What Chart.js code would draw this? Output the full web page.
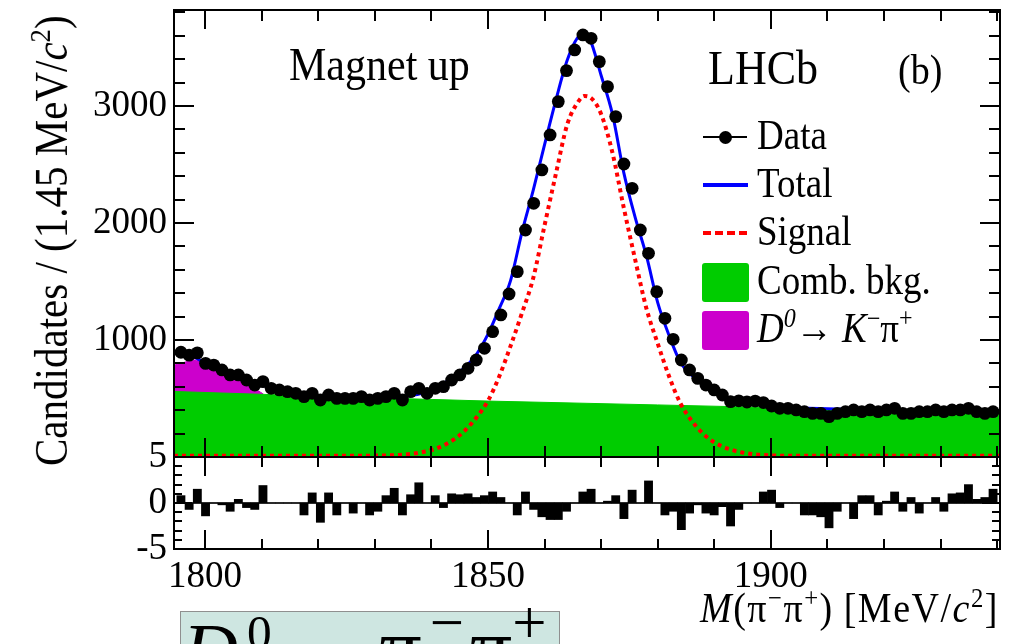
<!DOCTYPE html>
<html>
<head>
<meta charset="utf-8">
<script src="https://cdn.jsdelivr.net/npm/chart.js@4.4.1/dist/chart.umd.min.js"></script>
<style>
html, body { margin: 0; padding: 0; background: #fff; }
#wrap { position: relative; width: 1018px; height: 644px; overflow: hidden; font-family: 'Liberation Serif', 'Times New Roman', serif; color: #000; }
canvas { position: absolute; left: 0; }
.txt { position: absolute; left: 0; top: 0; line-height: 1; white-space: nowrap; }
.txt sup { font-size: 0.65em; line-height: 0; vertical-align: baseline; position: relative; top: -0.55em; }
.sym { position: absolute; }
.box { position: absolute; left: 180px; top: 611px; width: 378px; height: 60px; background: #cee6e1; border: 1px solid #8f8f8f; }
</style>
</head>
<body>
<div id="wrap">
  <canvas id="mainCanvas" width="1018" height="462" style="top:0px"></canvas>
  <canvas id="resCanvas" width="1018" height="170" style="top:440px"></canvas>

  <!-- legend symbols -->
  <div class="sym" style="left:703px;top:136px;width:44px;height:2px;background:#000"></div>
  <div class="sym" style="left:719px;top:131px;width:13px;height:13px;border-radius:50%;background:#000"></div>
  <div class="sym" style="left:703px;top:183px;width:45px;height:4px;background:#0000ff"></div>
  <div class="sym" style="left:703px;top:231px;width:44px;height:4px;background:repeating-linear-gradient(90deg,#ff0000 0 8px,transparent 8px 12px)"></div>
  <div class="sym" style="left:702px;top:263px;width:47px;height:39px;border-radius:3px;background:#00cc00"></div>
  <div class="sym" style="left:702px;top:311px;width:47px;height:39px;border-radius:3px;background:#cc00cc"></div>

  <div class="box"></div>
</div>

<script>
// binning (1.45 MeV/c2 bins) and axis range
const BIN_LO = 1795;
const BIN_W = 1.45;
const X_MIN = 1794.5;
const X_MAX = 1940.5;
const Y_MAX = 3820;

// tick labels
const xTickVals = [1800, 1850, 1900];
const yTickVals = [1000, 2000, 3000];
const resTickVals = [-5, 0, 5];

// candidates per bin
const dataCounts = [
  895, 870, 890, 800, 786, 744, 701, 701, 658, 615,
  644, 587, 573, 558, 544, 516, 544, 487, 530, 501,
  501, 501, 516, 487, 501, 516, 544, 487, 558, 587,
  544, 587, 601, 658, 701, 758, 829, 929, 1071, 1214,
  1393, 1584, 1940, 2168, 2453, 2752, 3037, 3302, 3479, 3607,
  3578, 3379, 3165, 2909, 2504, 2296, 1940, 1741, 1413, 1185,
  1006, 829, 744, 672, 615, 573, 530, 473, 480, 470,
  478, 465, 436, 416, 416, 402, 387, 373, 373, 345,
  373, 387, 402, 387, 402, 387, 402, 416, 373, 373,
  387, 387, 402, 387, 402, 402, 416, 387, 373, 387
];

// residuals (pulls) per bin
const pulls = [
  0.8, -0.7, 1.5, -1.4, 0, -0.2, -0.9, 0.4, -0.5, -0.7,
  1.9, 0, 0, 0, 0, -1.3, 1.1, -2.1, 1.1, -1.3,
  0, -1.1, 0, -1.3, -0.9, 0.8, 1.6, -1.3, 0.9, 2.2,
  0, 0.8, -0.5, 1.0, 0.9, 1.0, 0.6, 0.8, 1.2, 0.6,
  0, -1.3, 1.2, -0.7, -1.5, -1.8, -1.8, -0.9, 0, 1.2,
  1.5, 0, 0.2, 0.8, -1.7, 1.4, 0, 2.4, 0, -1.3,
  -0.9, -2.9, -1.1, -0.2, -1.1, -1.3, -0.4, -2.5, -0.7, 0,
  0, 1.2, 1.4, -0.5, 0, 0, -1.3, -1.3, -1.5, -2.7,
  -0.9, 0, -1.7, 0.8, 0.8, -1.3, 0.2, 1.2, -0.9, 0.6,
  -1.1, 0, 0.6, -0.9, 1.0, 1.1, 2.0, 0.4, 0.6, 1.5
];

// fit curves
const curveX = [
  1794.5, 1797, 1800, 1803, 1806, 1810, 1815, 1820, 1825, 1830,
  1835, 1838, 1841, 1844, 1846, 1848, 1850, 1852, 1854, 1856,
  1858, 1860, 1862, 1864, 1866, 1867, 1868, 1870, 1872, 1874,
  1876, 1878, 1880, 1882, 1884, 1886, 1888, 1890, 1893, 1896,
  1900, 1905, 1910, 1920, 1930, 1940.5
];
const totalFit = [
  890, 875, 805, 735, 675, 615, 555, 522, 505, 505,
  518, 540, 595, 690, 770, 880, 1050, 1270, 1510, 1920,
  2280, 2670, 3050, 3390, 3590, 3605, 3570, 3260, 2930, 2430,
  2050, 1720, 1320, 1040, 810, 700, 625, 565, 495, 465,
  440, 420, 412, 400, 392, 385
];
const signalFit = [
  10, 10, 10, 10, 10, 10, 10, 10, 10, 12,
  20, 38, 75, 150, 230, 340, 480, 690, 950, 1230,
  1530, 1980, 2420, 2840, 3040, 3085, 3075, 2930, 2600, 2130,
  1690, 1270, 970, 690, 460, 310, 200, 125, 62, 30,
  14, 10, 10, 10, 10, 10
];
const combX = [1794.5, 1820, 1850, 1880, 1910, 1940.5];
const combFit = [560, 520, 478, 445, 412, 385];
// D0 -> K pi reflection, stacked on top of the comb. background
const kpiX = [1794.5, 1796, 1798, 1799, 1801, 1803, 1806, 1808, 1810.3];
const kpiTop = [785, 805, 829, 820, 780, 735, 670, 610, 538];

const pts = (xs, ys) => xs.map((x, i) => ({ x: x, y: ys[i] }));
const binCenters = dataCounts.map((_, i) => BIN_LO + BIN_W * (i + 0.5));

Chart.defaults.font.family = "'Liberation Serif', 'Times New Roman', serif";
Chart.defaults.color = '#000';

// ROOT style frame: box + ticks pointing inward on all four sides
const rootFrame = {
  id: 'rootFrame',
  afterDatasetsDraw(chart, args, o) {
    const { ctx, chartArea: a, scales: { x, y } } = chart;
    const seg = (x1, y1, x2, y2) => { ctx.beginPath(); ctx.moveTo(x1, y1); ctx.lineTo(x2, y2); ctx.stroke(); };
    const isMaj = (v, m) => Math.abs(v / m - Math.round(v / m)) < 1e-6;
    ctx.save();
    ctx.strokeStyle = '#000';
    ctx.lineWidth = 2;
    if (o.zero) {
      ctx.lineWidth = 1.5;
      const py = y.getPixelForValue(0);
      seg(a.left, py, a.right, py);
      ctx.lineWidth = 2;
    }
    for (let v = Math.ceil(x.min / o.xMinor) * o.xMinor; v <= x.max; v += o.xMinor) {
      const px = Math.round(x.getPixelForValue(v));
      const len = isMaj(v, o.xMajor) ? o.xMajLen : o.xMinLen;
      seg(px, a.bottom, px, a.bottom - len);
      seg(px, a.top, px, a.top + len);
    }
    for (let v = Math.ceil(y.min / o.yMinor) * o.yMinor; v <= y.max + 1e-9; v += o.yMinor) {
      const py = Math.round(y.getPixelForValue(v));
      const len = isMaj(v, o.yMajor) ? o.yMajLen : o.yMinLen;
      seg(a.left, py, a.left + len, py);
      seg(a.right, py, a.right - len, py);
    }
    ctx.strokeRect(a.left, a.top, a.right - a.left, a.bottom - a.top);
    ctx.restore();
  }
};

const tickFont = { size: 37 };
// keep the plot frame where the layout padding puts it (no extra room for half tick labels)
const fixY = s => { s.width = 174; s.paddingTop = 0; s.paddingBottom = 0; };
const fixX = s => { s.height = 61; s.paddingLeft = 0; s.paddingRight = 0; };

// === main panel ===
new Chart(document.getElementById('mainCanvas'), {
  type: 'scatter',
  data: {
    datasets: [
      { label: 'Data', data: pts(binCenters, dataCounts), pointRadius: 6.4, pointBackgroundColor: '#000', pointBorderWidth: 0, order: 0 },
      { type: 'line', label: 'Total', data: pts(curveX, totalFit), borderColor: '#0000ff', borderWidth: 3,
        pointRadius: 0, cubicInterpolationMode: 'monotone', fill: false, order: 1 },
      { type: 'line', label: 'Signal', data: pts(curveX, signalFit), borderColor: '#ff0000', borderWidth: 4, borderDash: [4, 4],
        pointRadius: 0, cubicInterpolationMode: 'monotone', fill: false, clip: 3, order: 2 },
      { type: 'line', label: 'Comb. bkg.', data: pts(combX, combFit), borderColor: '#00cc00', borderWidth: 1,
        backgroundColor: '#00cc00', fill: 'origin', pointRadius: 0, order: 3 },
      { type: 'line', label: 'D0 -> K pi', data: pts(kpiX, kpiTop), borderColor: '#cc00cc', borderWidth: 1,
        backgroundColor: '#cc00cc', fill: 'origin', pointRadius: 0, tension: 0.2, order: 4 }
    ]
  },
  options: {
    responsive: false,
    animation: false,
    devicePixelRatio: 1,
    layout: { autoPadding: false, padding: { top: 10, right: 18, bottom: 5, left: 0 } },
    plugins: {
      legend: { display: false },
      tooltip: { enabled: false },
      rootFrame: { xMinor: 10, xMajor: 50, xMajLen: 19, xMinLen: 11, yMinor: 200, yMajor: 1000, yMajLen: 20, yMinLen: 11 }
    },
    scales: {
      x: { type: 'linear', min: X_MIN, max: X_MAX, display: false },
      y: {
        min: 0, max: Y_MAX,
        afterFit: fixY,
        afterBuildTicks(s) { s.ticks = yTickVals.map(v => ({ value: v })); },
        grid: { display: false, drawTicks: false },
        border: { display: false },
        ticks: { padding: 7, autoSkip: false, font: tickFont, color: '#000', callback: v => String(v) }
      }
    }
  },
  plugins: [rootFrame]
});

// === residual panel ===
new Chart(document.getElementById('resCanvas'), {
  type: 'bar',
  data: {
    datasets: [
      { label: 'Pull', data: pts(binCenters, pulls), backgroundColor: '#000', borderWidth: 0,
        barPercentage: 1, categoryPercentage: 1 }
    ]
  },
  options: {
    responsive: false,
    animation: false,
    devicePixelRatio: 1,
    layout: { autoPadding: false, padding: { top: 17, right: 18, bottom: 0, left: 0 } },
    plugins: {
      legend: { display: false },
      tooltip: { enabled: false },
      rootFrame: { zero: true, xMinor: 10, xMajor: 50, xMajLen: 19, xMinLen: 10, yMinor: 1, yMajor: 5, yMajLen: 18, yMinLen: 8 }
    },
    scales: {
      x: {
        type: 'linear', min: X_MIN, max: X_MAX, offset: false,
        afterFit: fixX,
        afterBuildTicks(s) { s.ticks = xTickVals.map(v => ({ value: v })); },
        grid: { display: false, drawTicks: false, offset: false },
        border: { display: false },
        ticks: { padding: 6, maxRotation: 0, autoSkip: false, font: tickFont, color: '#000', callback: v => String(v) }
      },
      y: {
        min: -5, max: 5,
        afterFit: fixY,
        afterBuildTicks(s) { s.ticks = resTickVals.map(v => ({ value: v })); },
        grid: { display: false, drawTicks: false },
        border: { display: false },
        ticks: { padding: 7, autoSkip: false, font: tickFont, color: '#000', callback: v => String(v) }
      }
    }
  },
  plugins: [rootFrame]
});

// === text labels (serif, slightly tall like the ROOT font) ===
const wrap = document.getElementById('wrap');
function addText(html, x, base, size, opt) {
  opt = opt || {};
  const el = document.createElement('div');
  el.className = 'txt';
  el.innerHTML = html;
  el.style.fontSize = size + 'px';
  if (opt.ls) el.style.letterSpacing = opt.ls + 'px';
  wrap.appendChild(el);
  const w = el.offsetWidth;
  const asc = 0.8375 * size;
  const dx = opt.anchor === 'right' ? -w : (opt.anchor === 'center' ? -w / 2 : 0);
  const sy = opt.sy || 1.12;
  el.style.transformOrigin = '0 0';
  el.style.transform = 'translate(' + x + 'px,' + base + 'px) ' + (opt.rot ? 'rotate(-90deg) ' : '') +
    'scaleY(' + sy + ') translate(' + dx + 'px,' + (-asc) + 'px)';
  return el;
}

addText('Magnet up', 289, 80, 42);
addText('LHCb', 708, 85, 44);
addText('(b)', 898, 84, 38);

addText('Data', 757, 149, 37);
addText('Total', 757, 197, 37);
addText('Signal', 757, 245, 37);
addText('Comb. bkg.', 757, 294, 37);
addText('<i>D</i><sup><i>0</i></sup>\u2192 <i>K</i><sup>\u2212</sup>\u03c0<sup>+</sup>', 757, 342, 37);

addText('Candidates / (1.45 MeV/<i>c</i><sup>2</sup>)', 67, 466, 41, { rot: true });
addText('<i>M</i>(\u03c0<sup>\u2212</sup>\u03c0<sup>+</sup>)<span style="margin-left:10px">[MeV/<i>c</i><sup>2</sup>]</span>', 999, 622, 38,
  { anchor: 'right', ls: 1.5 });

// caption box below the figure (cut by the page edge)
addText('<i>D</i><sup style="margin-left:9px">0</sup><span style="margin-left:-4px">\u2192</span>' +
  '<span style="margin-left:36px;font-size:1.1em">\u03c0</span><sup style="margin-left:8px;font-size:0.8em">\u2212</sup>' +
  '<span style="margin-left:6px;font-size:1.1em">\u03c0</span><sup style="font-size:0.8em">+</sup>', 183, 671, 76, { sy: 1 });
</script>
</body>
</html>
